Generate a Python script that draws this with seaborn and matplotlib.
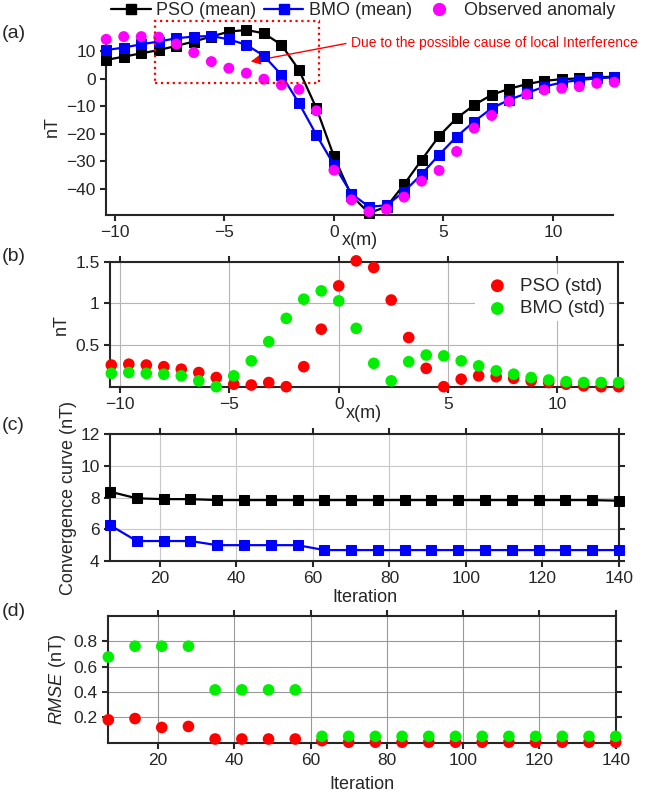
import matplotlib
matplotlib.use("Agg")
import matplotlib.pyplot as plt
from matplotlib.patches import Rectangle
from matplotlib.lines import Line2D
import seaborn as sns

# =====================
# DATA
# =====================
x_pos = [-10.4, -9.6, -8.8, -8.0, -7.2, -6.4, -5.6, -4.8, -4.0, -3.2, -2.4, -1.6, -0.8,
         0.0, 0.8, 1.6, 2.4, 3.2, 4.0, 4.8, 5.6, 6.4, 7.2, 8.0, 8.8, 9.6, 10.4, 11.2, 12.0, 12.8]

pso_mean = [6.9, 8.1, 9.3, 10.5, 12.0, 13.6, 15.4, 17.2, 17.8, 16.6, 12.4, 3.3, -10.7,
            -28.2, -42.5, -48.8, -46.5, -38.4, -29.5, -20.8, -14.3, -9.5, -5.8, -3.6, -1.9,
            -0.7, -0.1, 0.2, 0.6, 0.8]
bmo_mean = [10.5, 11.4, 12.6, 13.6, 14.8, 15.4, 15.6, 14.4, 12.4, 8.4, 1.5, -8.8, -20.4,
            -31.3, -41.8, -46.5, -46.0, -41.0, -34.7, -27.6, -21.0, -15.5, -10.7, -7.6, -5.2,
            -2.8, -1.3, -0.4, 0.2, 0.6]
observed = [14.4, 15.4, 15.4, 15.2, 12.7, 9.6, 6.3, 3.9, 2.1, -0.1, -2.2, -3.8, -11.6,
            -33.2, -44.0, -48.3, -47.4, -43.0, -37.2, -33.3, -26.4, -17.9, -13.3, -8.2, -5.6,
            -4.0, -3.4, -2.8, -1.6, -1.2]

pso_std = [0.26, 0.27, 0.26, 0.24, 0.21, 0.17, 0.11, 0.03, 0.02, 0.05, 0.0, 0.24, 0.69,
           1.21, 1.51, 1.43, 1.04, 0.59, 0.22, 0.0, 0.09, 0.13, 0.12, 0.10, 0.07, 0.05,
           0.03, 0.01, 0.0, 0.0]
bmo_std = [0.16, 0.17, 0.16, 0.15, 0.13, 0.07, 0.0, 0.13, 0.31, 0.54, 0.82, 1.05, 1.15,
           1.03, 0.70, 0.28, 0.07, 0.30, 0.38, 0.37, 0.31, 0.25, 0.19, 0.15, 0.11, 0.08,
           0.06, 0.05, 0.05, 0.05]

iterations = [7, 14, 21, 28, 35, 42, 49, 56, 63, 70, 77, 84, 91, 98, 105, 112, 119, 126, 133, 140]
pso_conv = [8.37, 7.95, 7.9, 7.9, 7.84, 7.84, 7.84, 7.84, 7.84, 7.84, 7.84, 7.84, 7.84,
            7.84, 7.84, 7.84, 7.84, 7.84, 7.84, 7.8]
bmo_conv = [6.26, 5.26, 5.26, 5.26, 5.0, 5.0, 5.0, 5.0, 4.69, 4.69, 4.69, 4.69, 4.69,
            4.69, 4.69, 4.69, 4.69, 4.69, 4.69, 4.69]
pso_rmse = [0.18, 0.19, 0.12, 0.128, 0.029, 0.029, 0.029, 0.029, 0.016, 0.004, 0.004,
            0.004, 0.004, 0.004, 0.004, 0.004, 0.004, 0.004, 0.004, 0.004]
bmo_rmse = [0.675, 0.76, 0.76, 0.76, 0.416, 0.416, 0.416, 0.416, 0.05, 0.05, 0.05, 0.05,
            0.05, 0.05, 0.05, 0.05, 0.05, 0.05, 0.05, 0.05]

note_text = "Due to the possible cause of local Interference"
note_box = (-8.15, -1.45, 7.45, 22.55)  # x0, y0, width, height in data units

# =====================
# STYLE
# =====================
sns.set_style("ticks")
plt.rcParams["font.family"] = ["Liberation Sans", "DejaVu Sans"]
plt.rcParams["mathtext.fontset"] = "custom"
plt.rcParams["mathtext.it"] = "Liberation Sans:italic"
plt.rcParams["mathtext.rm"] = "Liberation Sans"
plt.rcParams["axes.linewidth"] = 1.5
plt.rcParams["xtick.major.width"] = 1.5
plt.rcParams["ytick.major.width"] = 1.5
plt.rcParams["xtick.major.size"] = 4
plt.rcParams["ytick.major.size"] = 4
plt.rcParams["xtick.labelsize"] = 12.5
plt.rcParams["ytick.labelsize"] = 12.5

SQ = 6.5     # square marker size
DOT = 70     # scatter dot area

fig = plt.figure(figsize=(6.49, 7.95), dpi=100)
ax_a = fig.add_axes([0.1633, 0.7296, 0.7812, 0.2230])
ax_b = fig.add_axes([0.1695, 0.5136, 0.7827, 0.1572])
ax_c = fig.add_axes([0.1695, 0.2943, 0.7843, 0.1597])
ax_d = fig.add_axes([0.1669, 0.0658, 0.7818, 0.1597])

# ---- (a) mean profiles
sns.lineplot(x=x_pos, y=pso_mean, ax=ax_a, color="black", marker="s", markersize=SQ,
             markeredgecolor="black", linewidth=1.6, clip_on=False, legend=False, zorder=3)
sns.lineplot(x=x_pos, y=bmo_mean, ax=ax_a, color="#0000ff", marker="s", markersize=SQ,
             markeredgecolor="#0000ff", linewidth=1.6, clip_on=False, legend=False, zorder=4)
sns.scatterplot(x=x_pos, y=observed, ax=ax_a, color="#ff00ff", s=62, edgecolor="none",
                clip_on=False, legend=False, zorder=5)
ax_a.set_xlim(-10.41, 12.74)
ax_a.set_ylim(-49.5, 15)
ax_a.set_yticks([-40, -30, -20, -10, 0, 10])
ax_a.set_xticks([-10, -5, 0, 5, 10])
ax_a.spines["top"].set_visible(False)
ax_a.spines["right"].set_visible(False)
ax_a.set_ylabel("nT", fontsize=13)
ax_a.set_xlabel("x(m)", fontsize=13, labelpad=-6)

ax_a.add_patch(Rectangle(note_box[:2], note_box[2], note_box[3], fill=False,
                         edgecolor="red", linestyle=":", linewidth=1.6, clip_on=False, zorder=6))
ax_a.annotate(note_text, xy=(-3.8, 6.3), xytext=(0.76, 13.2), color="red", fontsize=10,
              va="center", ha="left", annotation_clip=False,
              arrowprops=dict(arrowstyle="-|>", color="red", lw=1.0, mutation_scale=14,
                              relpos=(0, 0.5), shrinkA=1, shrinkB=0))

handles = [
    Line2D([], [], color="black", marker="s", markersize=SQ, linewidth=1.6),
    Line2D([], [], color="#0000ff", marker="s", markersize=SQ, linewidth=1.6),
    Line2D([], [], color="#ff00ff", marker="o", markersize=8.5, linestyle="none"),
]
fig.legend(handles, ["PSO (mean)", "BMO (mean)", "Observed anomaly"], loc="center",
           bbox_to_anchor=(0.56, 0.987), ncol=3, frameon=False, fontsize=13,
           handlelength=2.2, handletextpad=0.3, columnspacing=0.4)

# ---- (b) std profiles
sns.scatterplot(x=x_pos, y=pso_std, ax=ax_b, color="#ff0000", s=DOT, edgecolor="none",
                clip_on=False, label="PSO (std)", legend=False, zorder=3)
sns.scatterplot(x=x_pos, y=bmo_std, ax=ax_b, color="#00ee00", s=DOT, edgecolor="none",
                clip_on=False, label="BMO (std)", legend=False, zorder=4)
ax_b.set_xlim(-10.46, 12.77)
ax_b.set_ylim(0, 1.5)
ax_b.set_yticks([0.5, 1, 1.5])
ax_b.set_yticklabels(["0.5", "1", "1.5"])
ax_b.set_xticks([-10, -5, 0, 5, 10])
ax_b.grid(True, color="#b4b4b4", linewidth=0.8)
ax_b.set_ylabel("nT", fontsize=13)
ax_b.set_xlabel("x(m)", fontsize=13, labelpad=-5)
h, l = ax_b.get_legend_handles_labels()
ax_b.legend(h, l, loc="center right", bbox_to_anchor=(1.0, 0.714), fontsize=13.5,
            frameon=True, facecolor="white", edgecolor="none", framealpha=1,
            handletextpad=0.2, borderpad=0.2, labelspacing=0.3, markerscale=1.1)

# ---- (c) convergence
sns.lineplot(x=iterations, y=pso_conv, ax=ax_c, color="black", marker="s", markersize=SQ,
             markeredgecolor="black", linewidth=1.6, clip_on=False, legend=False, zorder=3)
sns.lineplot(x=iterations, y=bmo_conv, ax=ax_c, color="#0000ff", marker="s", markersize=SQ,
             markeredgecolor="#0000ff", linewidth=1.6, clip_on=False, legend=False, zorder=3)
ax_c.set_xlim(7, 140)
ax_c.set_ylim(4, 12)
ax_c.set_yticks([4, 6, 8, 10, 12])
ax_c.set_xticks([20, 40, 60, 80, 100, 120, 140])
ax_c.grid(True, color="#c8c8c8", linewidth=0.8)
ax_c.set_ylabel("Convergence curve (nT)", fontsize=13, labelpad=2)
ax_c.set_xlabel("Iteration", fontsize=13, labelpad=2)

# ---- (d) RMSE
sns.scatterplot(x=iterations, y=pso_rmse, ax=ax_d, color="#ff0000", s=DOT, edgecolor="none",
                clip_on=False, legend=False, zorder=3)
sns.scatterplot(x=iterations, y=bmo_rmse, ax=ax_d, color="#00ee00", s=DOT, edgecolor="none",
                clip_on=False, legend=False, zorder=4)
ax_d.set_xlim(7, 140)
ax_d.set_ylim(0, 1.0)
ax_d.set_yticks([0.2, 0.4, 0.6, 0.8])
ax_d.set_xticks([20, 40, 60, 80, 100, 120, 140])
ax_d.grid(True, color="#999999", linewidth=0.8)
ax_d.set_ylabel(r"$\it{RMSE}$ (nT)", fontsize=13)
ax_d.set_xlabel("Iteration", fontsize=13, labelpad=6)

for ax in (ax_b, ax_c, ax_d):
    ax.tick_params(top=True, right=True, labeltop=False, labelright=False, direction="out")
    ax.set_axisbelow(True)
ax_a.tick_params(direction="out")

# panel letters
for letter, ypos in (("(a)", 33), ("(b)", 257), ("(c)", 425), ("(d)", 612)):
    fig.text(0.003, 1 - ypos / 795, letter, fontsize=14, va="center", ha="left")

plt.savefig("out.png", dpi=100)
